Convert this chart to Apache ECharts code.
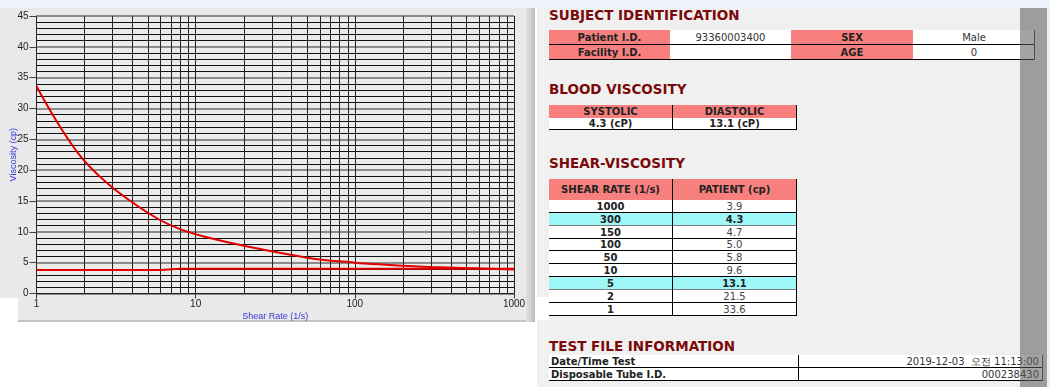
<!DOCTYPE html>
<html><head><meta charset="utf-8">
<script src="https://cdn.jsdelivr.net/npm/echarts@6/dist/echarts.min.js"></script>
<style>
html,body{margin:0;padding:0;width:1050px;height:387px;overflow:hidden;background:#fff;font-family:'DejaVu Sans',sans-serif;}
.abs{position:absolute;box-sizing:border-box;}
.cell{position:absolute;box-sizing:border-box;white-space:nowrap;overflow:hidden;font-size:10px;color:#222;}
.title{position:absolute;font-size:13.5px;font-weight:bold;color:#7a0a0a;line-height:16px;white-space:nowrap;}
</style></head>
<body>
<div class="abs" style="left:0;top:0;width:1050px;height:8px;background:#eef3fa;"></div>
<div class="abs" style="left:0;top:8px;width:535px;height:314px;background:#e9e9e9;border-bottom:2px solid #c4c4c4;"></div>
<div class="abs" style="left:526px;top:8px;width:9px;height:314px;background:linear-gradient(to right,#e2e2e2,#bdbdbd);"></div>
<div class="abs" style="left:0;top:298px;width:18px;height:26px;background:#fff;"></div>
<div class="abs" style="left:537px;top:8px;width:513px;height:379px;background:#f0f0f0;"></div>
<div class="abs" style="left:535px;top:297px;width:14px;height:23px;background:#fff;"></div>
<div id="chart" class="abs" style="left:0;top:8px;width:535px;height:314px;"></div>
<div id="right"></div>
<div class="abs" style="left:1020px;top:8px;width:27px;height:379px;background:rgba(90,90,90,0.55);"></div>
<script>
// ---- data ----
const shearRates = [1000, 300, 150, 100, 50, 10, 5, 2, 1];
const viscosities = [3.9, 4.3, 4.7, 5.0, 5.8, 9.6, 13.1, 21.5, 33.6];
const highlightRates = [300, 5];
const refLineX = [1, 6, 8, 1000];
const refLineY = [3.8, 3.8, 4.0, 4.0];
const minorGridX = [2,3,4,5,6,7,8,9,20,30,40,50,60,70,80,90,200,300,400,500,600,700,800,900];
const xTickLabels = ['1', '10', '100', '1000'];
const yMin = 0, yMax = 45, yStep = 5;
const patientId = '93360003400';
const facilityId = '';
const sex = 'Male';
const age = '0';
const systolic = '4.3 (cP)';
const diastolic = '13.1 (cP)';
const testDate = '2019-12-03\u00a0\u00a0오전 11:13:00';
const tubeId = '000238430';

// ---- chart ----
const chart = echarts.init(document.getElementById('chart'), null, {renderer: 'canvas'});
const curve = shearRates.map((r, i) => [r, viscosities[i]]).sort((a, b) => a[0] - b[0]);
const ref = refLineX.map((x, i) => [x, refLineY[i]]);
const lblFont = {fontFamily: 'Liberation Sans', fontSize: 10, color: '#222'};
chart.setOption({
  animation: false,
  backgroundColor: 'transparent',
  grid: {left: 36.5, right: 21, top: 8, bottom: 28.5, containLabel: false, outerBoundsMode: 'none',
    show: true, backgroundColor: '#ebebeb', borderWidth: 0},
  xAxis: {
    type: 'log', logBase: 10, min: 1, max: 1000,
    name: 'Shear Rate (1/s)', nameLocation: 'middle', nameGap: 19, nameMoveOverlap: false,
    nameTextStyle: {fontFamily: 'Liberation Sans', fontSize: 9, color: '#3838d8'},
    axisLine: {show: true, onZero: false, lineStyle: {color: '#222', width: 1}},
    axisTick: {show: true, length: 5, lineStyle: {color: '#333'}},
    axisLabel: Object.assign({margin: 6, formatter: v => xTickLabels[Math.round(Math.log10(v))]}, lblFont),
    splitLine: {show: true, lineStyle: {color: '#222', width: 1}}
  },
  yAxis: {
    type: 'value', min: yMin, max: yMax, interval: yStep,
    name: 'Viscosity (cp)', nameLocation: 'middle', nameGap: 18, nameMoveOverlap: false,
    nameTextStyle: {fontFamily: 'Liberation Sans', fontSize: 9, color: '#3838d8'},
    axisLine: {show: true, lineStyle: {color: '#222', width: 1}},
    axisTick: {show: true, length: 7, lineStyle: {color: '#444'}},
    axisLabel: Object.assign({margin: 8}, lblFont),
    minorTick: {show: false, splitNumber: 5},
    minorSplitLine: {show: true, lineStyle: {color: '#111', width: 1}},
    splitLine: {show: true, lineStyle: {color: '#8c8c8c', width: 2}}
  },
  series: [
    {
      type: 'custom', silent: true, z: 1,
      data: minorGridX.map(v => [v, yMin]),
      renderItem: function (params, api) {
        const x = api.value(0);
        const p1 = api.coord([x, yMin]);
        const p2 = api.coord([x, yMax]);
        const px = Math.round(p1[0]) + 0.5;
        return {type: 'line', shape: {x1: px, y1: p1[1], x2: px, y2: p2[1]}, style: {stroke: '#222', lineWidth: 1}};
      }
    },
    {
      type: 'line', data: ref, showSymbol: false, silent: true, z: 3,
      lineStyle: {color: '#e00000', width: 2}
    },
    {
      type: 'line', data: curve, showSymbol: false, silent: true, z: 4,
      smooth: 0.35,
      lineStyle: {color: '#e00000', width: 2}
    }
  ]
});

// ---- right side info panel ----
const root = document.getElementById('right');
function el(cls, style, text) {
  const d = document.createElement('div');
  d.className = cls;
  d.setAttribute('style', style);
  if (text !== undefined) d.textContent = text;
  root.appendChild(d);
  return d;
}
function cell(x1, y1, x2, y2, text, o) {
  o = o || {};
  const align = o.align || 'center';
  const pad = align === 'left' ? 'padding-left:2px;' : (align === 'right' ? 'padding-right:4px;' : '');
  el('cell', `left:${x1}px;top:${y1}px;width:${x2 - x1}px;height:${y2 - y1}px;line-height:${y2 - y1}px;` +
    `background:${o.bg || '#fff'};text-align:${align};font-weight:${o.bold ? 'bold' : 'normal'};color:${o.color || '#222'};${pad}`, text);
}
function hline(x1, x2, y, c, w) { el('abs', `left:${x1}px;top:${y}px;width:${x2 - x1}px;height:${w || 1}px;background:${c || '#000'};`); }
function vline(x, y1, y2, c, w) { el('abs', `left:${x}px;top:${y1}px;width:${w || 1}px;height:${y2 - y1}px;background:${c || '#000'};`); }
function title(y, text) { el('title', `left:549px;top:${y - 8}px;`, text); }
const PINK = '#f7807e', CYAN = '#9ff7f7';

title(15, 'SUBJECT IDENTIFICATION');
const t1c = [549, 670, 791, 913, 1035];
const t1rows = [['Patient I.D.', patientId, 'SEX', sex], ['Facility I.D.', facilityId, 'AGE', age]];
t1rows.forEach((row, r) => {
  const y1 = 30 + r * 15, y2 = y1 + 15;
  row.forEach((t, c) => cell(t1c[c], y1, t1c[c + 1], y2, t, {bg: c % 2 === 0 ? PINK : '#fff', bold: c % 2 === 0, color: c % 2 === 0 ? '#222' : '#333'}));
});
hline(549, 1035, 44); hline(549, 1035, 59);
vline(1034, 30, 60, '#444');

title(89, 'BLOOD VISCOSITY');
cell(549, 105, 672, 118, 'SYSTOLIC', {bg: PINK, bold: true});
cell(672, 105, 797, 118, 'DIASTOLIC', {bg: PINK, bold: true});
cell(549, 118, 672, 130, systolic, {bold: true});
cell(672, 118, 797, 130, diastolic, {bold: true});
hline(549, 797, 129); vline(672, 105, 130); vline(796, 105, 130);

title(163, 'SHEAR-VISCOSITY');
cell(549, 179, 672, 200, 'SHEAR RATE (1/s)', {bg: PINK, bold: true});
cell(672, 179, 797, 200, 'PATIENT (cp)', {bg: PINK, bold: true});
const rh = 12.86;
shearRates.forEach((r, i) => {
  const y1 = Math.round(200 + i * rh), y2 = Math.round(200 + (i + 1) * rh);
  const hl = highlightRates.indexOf(r) >= 0;
  cell(549, y1, 672, y2, String(r), {bg: hl ? CYAN : '#fff', bold: true});
  cell(672, y1, 797, y2, viscosities[i].toFixed(1), {bg: hl ? CYAN : '#fff', bold: hl, color: hl ? '#222' : '#444'});
  hline(549, 797, y2 - 1, hl ? '#7a7a7a' : '#000', 1);
});
vline(672, 179, 316); vline(796, 179, 316);

title(346, 'TEST FILE INFORMATION');
cell(549, 355, 798, 368, 'Date/Time Test', {bold: true, align: 'left'});
cell(798, 355, 1043, 368, testDate, {align: 'right', color: '#333'});
cell(549, 368, 798, 381, 'Disposable Tube I.D.', {bold: true, align: 'left'});
cell(798, 368, 1043, 381, tubeId, {align: 'right', color: '#333'});
hline(549, 1043, 367); hline(549, 1043, 380);
vline(798, 355, 381); vline(1042, 355, 381, '#444');
</script>
</body></html>
